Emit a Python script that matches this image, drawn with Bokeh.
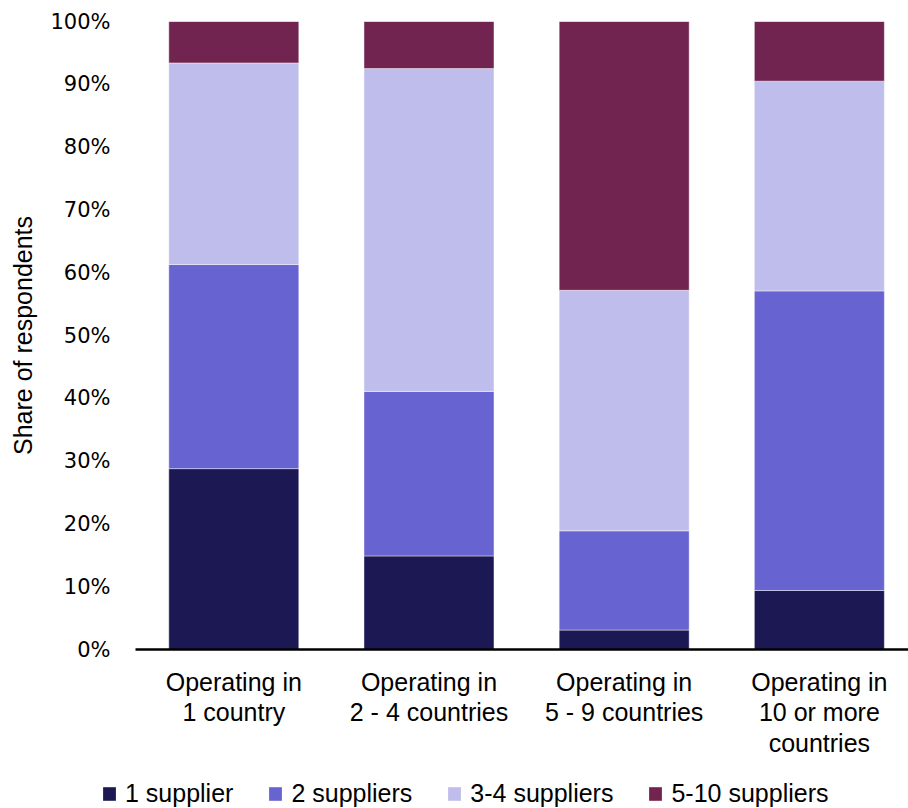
from bokeh.plotting import figure
from bokeh.layouts import column
from bokeh.models import Legend, LegendItem, NumeralTickFormatter, FixedTicker, Range1d, ColumnDataSource
from bokeh.embed import file_html
from bokeh.resources import INLINE

category_labels = ["Operating in\n1 country", "Operating in\n2 - 4 countries",
                   "Operating in\n5 - 9 countries", "Operating in\n10 or more\ncountries"]
series_names = ["1 supplier", "2 suppliers", "3-4 suppliers", "5-10 suppliers"]
one_supplier = [0.288, 0.149, 0.031, 0.094]
two_suppliers = [0.325, 0.262, 0.158, 0.477]
three_four_suppliers = [0.321, 0.514, 0.383, 0.334]
five_ten_suppliers = [0.066, 0.075, 0.428, 0.095]
y_ticks = [0, 0.1, 0.2, 0.3, 0.4, 0.5, 0.6, 0.7, 0.8, 0.9, 1.0]

colors = ["#1B1854", "#6763D1", "#BFBDEC", "#70244F"]
keys = ["s1", "s2", "s3", "s4"]
xpos = list(range(len(category_labels)))
source = ColumnDataSource(dict(x=xpos, s1=one_supplier, s2=two_suppliers,
                               s3=three_four_suppliers, s4=five_ten_suppliers))

W = 908
H_MAIN = 770
H_LEG = 38

p = figure(x_range=Range1d(-0.5036, 3.4567), y_range=Range1d(0, 1.0),
           width=W, height=H_MAIN, output_backend="svg", toolbar_location=None,
           min_border_left=135, min_border_top=21, min_border_right=0,
           min_border_bottom=H_MAIN - 649)
p.frame_align = False

renderers = p.vbar_stack(keys, x="x", width=0.666, color=colors, source=source,
                         line_color="white", line_alpha=0.55, line_width=0.8)

p.xgrid.visible = False
p.ygrid.visible = False
p.outline_line_color = None

p.yaxis.ticker = FixedTicker(ticks=y_ticks)
p.yaxis.formatter = NumeralTickFormatter(format="0%")
p.yaxis.axis_line_color = None
p.yaxis.major_tick_line_color = None
p.yaxis.minor_tick_line_color = None
p.yaxis.major_label_text_font = "DejaVu Sans"
p.yaxis.major_label_text_font_size = "21px"
p.yaxis.major_label_text_color = "#000000"
p.yaxis.axis_label = "Share of respondents"
p.yaxis.axis_label_text_font = "Liberation Sans"
p.yaxis.axis_label_text_font_size = "25px"
p.yaxis.axis_label_text_font_style = "normal"
p.yaxis.axis_label_text_color = "#000000"
p.yaxis.major_label_standoff = 19
p.yaxis.axis_label_standoff = 10

p.xaxis.ticker = FixedTicker(ticks=xpos)
p.xaxis.major_label_overrides = {i: lab for i, lab in zip(xpos, category_labels)}
p.xaxis.axis_line_color = "#000000"
p.xaxis.axis_line_width = 2.5
p.xaxis.major_tick_line_color = None
p.xaxis.minor_tick_line_color = None
p.xaxis.major_label_text_font = "Liberation Sans"
p.xaxis.major_label_text_font_size = "25px"
p.xaxis.major_label_text_line_height = 1.1
p.xaxis.major_label_text_color = "#000000"
p.xaxis.major_label_standoff = 12

# legend strip below the chart (its y range sits above the data, so no bars are visible here)
p2 = figure(x_range=Range1d(0, W), y_range=Range1d(10, 10 + H_LEG), width=W, height=H_LEG,
            output_backend="svg", toolbar_location=None,
            x_axis_location=None, y_axis_location=None,
            min_border_left=0, min_border_right=0, min_border_top=0, min_border_bottom=0)
p2.frame_align = False
p2.xgrid.visible = False
p2.ygrid.visible = False
p2.outline_line_color = None
leg_renderers = p2.vbar_stack(keys, x="x", width=0.666, color=colors, source=source,
                              line_color=None)

legend = Legend(items=[LegendItem(label=n, renderers=[r]) for n, r in zip(series_names, leg_renderers)],
                orientation="horizontal", location=(101, 0),
                label_text_font="Liberation Sans", label_text_font_size="25px",
                label_text_color="#000000",
                glyph_width=16, glyph_height=17, spacing=34, border_line_color=None,
                background_fill_alpha=0, padding=0, margin=0, label_standoff=8)
p2.add_layout(legend, "center")

layout = column(p, p2, spacing=0)
open("out.html", "w").write(file_html(layout, INLINE))
